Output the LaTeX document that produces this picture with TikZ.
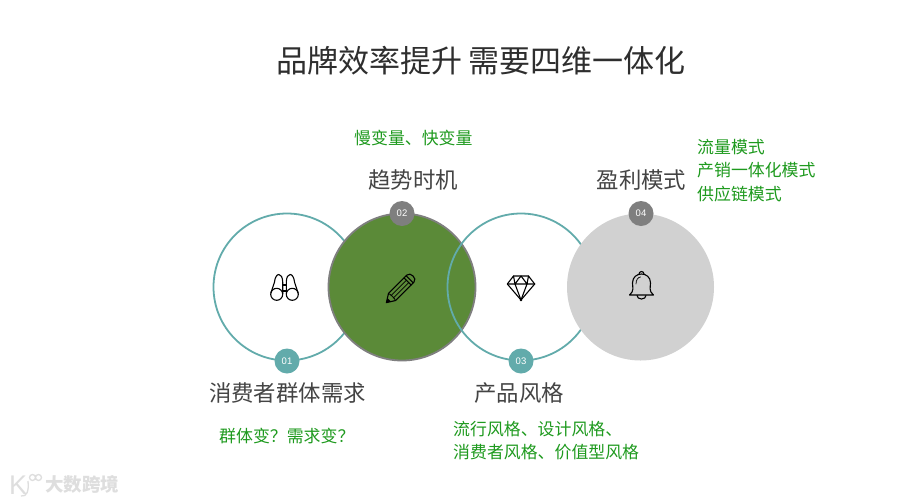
\documentclass[tikz,border=0pt]{standalone}
\usepackage{fontspec}
\newfontfamily\cjk{Noto Sans CJK SC}
\newfontfamily\latn{Liberation Sans}
\definecolor{teal1}{HTML}{62ABAB}
\definecolor{leaf}{HTML}{5B8A38}
\definecolor{stone}{HTML}{7F7F7F}
\definecolor{pale}{HTML}{D1D1D1}
\definecolor{note}{HTML}{1E9A1E}
\definecolor{head}{HTML}{444444}
\definecolor{wmgrey}{HTML}{DEDEDE}
\tikzset{
 x=1pt,y=-1pt,
 ring/.style={circle,minimum size=147pt,inner sep=0pt,draw=teal1,line width=1.8pt},
 solidleaf/.style={circle,minimum size=147pt,inner sep=0pt,fill=leaf,draw=stone,line width=1.8pt},
 solidpale/.style={circle,minimum size=147pt,inner sep=0pt,fill=pale},
 badge/.style={circle,minimum size=25pt,inner sep=0pt,text=white,font=\latn\fontsize{9.5}{10}\selectfont},
 headtext/.style={text=head,font=\cjk\fontsize{22.4}{26}\selectfont,inner sep=0pt},
 notetext/.style={text=note,font=\cjk\fontsize{16.9}{23.5}\selectfont,inner sep=0pt,align=left},
 icon/.style={line width=1.1pt,draw=black,line join=round,line cap=round},
}
\begin{document}
\begin{tikzpicture}
\useasboundingbox (0,0) rectangle (899,501);
\fill[white] (0,0) rectangle (899,501);
\node[inner sep=0pt,text=black!82,font=\cjk\fontsize{31}{36}\selectfont] (title) at (481,60.5) {品牌效率提升 需要四维一体化};
\node[ring] (c1) at (287,287) {};
\node[solidleaf] (c2) at (402,287) {};
\node[ring] (c3) at (521,287) {};
\node[solidpale] (c4) at (640.5,287) {};
\node[badge,fill=teal1] (b1) at (287,361) {01};
\node[badge,fill=stone] (b2) at (402,213.5) {02};
\node[badge,fill=teal1] (b3) at (521,361) {03};
\node[badge,fill=stone] (b4) at (641,213.5) {04};
\node[headtext] (h1) at (287.5,393) {消费者群体需求};
\node[headtext] (h2) at (413,180) {趋势时机};
\node[headtext] (h3) at (519,393) {产品风格};
\node[headtext] (h4) at (641.5,180) {盈利模式};
\node[notetext,anchor=west] (n1) at (219,436) {群体变？需求变？};
\node[notetext,anchor=west] (n2) at (354,138) {慢变量、快变量};
\node[notetext,anchor=north west] (n3) at (453,421) {流行风格、设计风格、\\消费者风格、价值型风格};
\node[notetext,anchor=north west] (n4) at (697,139) {流量模式\\产销一体化模式\\供应链模式};
% binoculars
\begin{scope}[shift={(284.5,288)}]
\draw[icon] (-7.8,6.3) circle (6) (7.8,6.3) circle (6);
\draw[icon] (-13.6,5) -- (-10,-6) .. controls (-9,-16) and (-2,-16) .. (-1.8,-6) -- (-1.8,6);
\draw[icon] (13.6,5) -- (10,-6) .. controls (9,-16) and (2,-16) .. (1.8,-6) -- (1.8,6);
\draw[icon] (-1.8,-3) -- (1.8,-3) (-1.8,3) -- (1.8,3);
\end{scope}
% pencil
\begin{scope}[shift={(400.5,288.5)},rotate=45]
\draw[icon] (-20,0) -- (-12,-5) -- (14,-5) .. controls (19,-5) and (19,5) .. (14,5) -- (-12,5) -- cycle;
\draw[icon,line width=.8pt] (-12,-1.7) -- (10,-1.7) (-12,1.7) -- (10,1.7);
\draw[icon] (10,-5) -- (10,5) (13,-5) -- (13,5);
\fill (-20,0) -- (-16,-2.5) -- (-16,2.5) -- cycle;
\draw[icon,line width=.8pt] (-12,-5) .. controls (-11,-2) and (-11,2) .. (-12,5);
\end{scope}
% diamond
\begin{scope}[shift={(521,287)}]
\draw[icon] (-7.5,-11) -- (7.5,-11) -- (13.7,-3) -- (0,13) -- (-13.7,-3) -- cycle;
\draw[icon] (-13.7,-3) -- (13.7,-3) (-7.5,-11) -- (-6,-3) -- (0,13) -- (6,-3) -- (7.5,-11) (-6,-3) -- (0,-11) -- (6,-3);
\fill (0,13) circle (1.3);
\end{scope}
% bell
\begin{scope}[shift={(641.5,287)}]
\draw[icon] (-12,8) .. controls (-7,4) and (-9,0) .. (-9,-4) .. controls (-9,-10) and (-4.5,-13) .. (0,-13) .. controls (4.5,-13) and (9,-10) .. (9,-4) .. controls (9,0) and (7,4) .. (12,8) -- cycle;
\draw[icon] (-2.5,-13) arc (180:360:2.5);
\draw[icon] (-4.5,8.5) arc (180:0:4.5 and 3.5);
\draw[icon,line width=.7pt] (-5.5,-3) .. controls (-5.5,-7) and (-3.5,-10) .. (-1,-10);
\end{scope}
% watermark
\node[inner sep=0pt,anchor=west,text=wmgrey,font=\cjk\bfseries\fontsize{18.5}{20}\selectfont] (wm) at (45,484) {大数跨境};
\node[inner sep=0pt,anchor=west,text=wmgrey,font=\latn\fontsize{27}{28}\selectfont] (wk) at (9,485) {K};
\draw[wmgrey,line width=1.3pt] (32.5,477.5) circle (3) (38.5,477.5) circle (3);
\draw[wmgrey,line width=1.3pt] (28,481) .. controls (29,491) and (27,497) .. (21,496);
\end{tikzpicture}
\end{document}
